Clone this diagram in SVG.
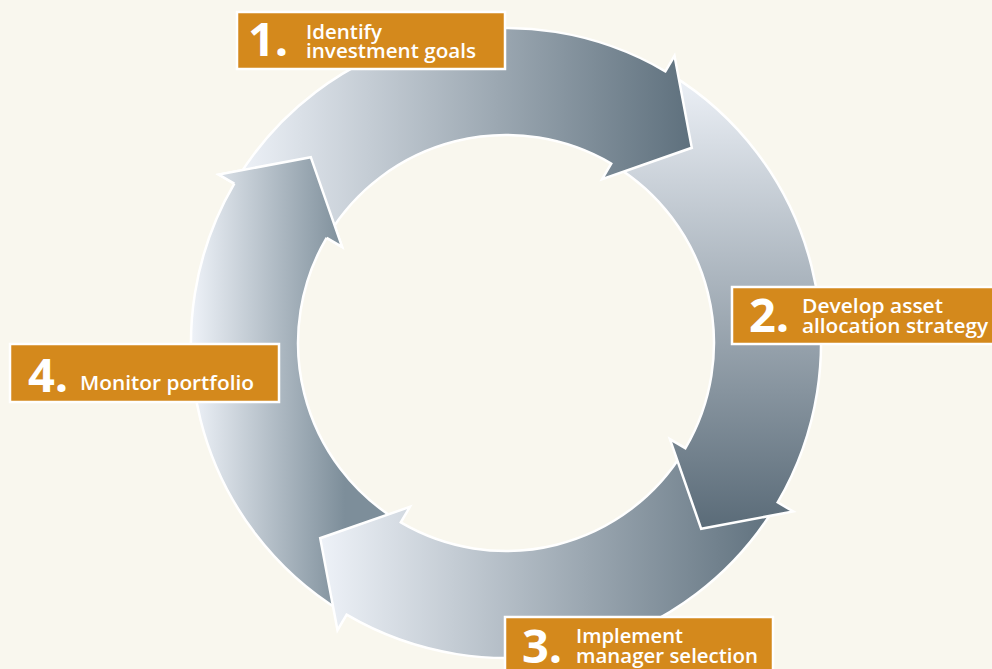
<svg xmlns="http://www.w3.org/2000/svg" width="992" height="669" viewBox="0 0 992 669">
<defs>
<linearGradient id="g1" gradientUnits="userSpaceOnUse" x1="237" y1="0" x2="692" y2="0"><stop offset="0" stop-color="#eef2f8"/><stop offset="1" stop-color="#5e707d"/></linearGradient>
<linearGradient id="g2" gradientUnits="userSpaceOnUse" x1="0" y1="72" x2="0" y2="529"><stop offset="0" stop-color="#eef2f8"/><stop offset="1" stop-color="#5a6b78"/></linearGradient>
<linearGradient id="g3" gradientUnits="userSpaceOnUse" x1="320" y1="0" x2="785" y2="0"><stop offset="0" stop-color="#eef2f8"/><stop offset="1" stop-color="#5c6e7b"/></linearGradient>
<linearGradient id="g4" gradientUnits="userSpaceOnUse" x1="191" y1="0" x2="345" y2="0"><stop offset="0" stop-color="#eef2f8"/><stop offset="1" stop-color="#7d8e9a"/></linearGradient>
<style>
.arr{stroke:#ffffff;stroke-width:2.5;stroke-linejoin:miter}
.edge{fill:none;stroke:#ffffff;stroke-width:2.5}
.box{fill:#d4891c;stroke:#ffffff;stroke-width:2.5}
.num{font-family:"Open Sans","Liberation Sans",sans-serif;font-weight:700;font-size:47px;fill:#ffffff}
.lbl{font-family:"Open Sans","Liberation Sans",sans-serif;font-weight:600;font-size:19.5px;fill:#ffffff}
</style>
</defs>
<rect width="992" height="669" fill="#f9f7ee"/>
<g id="connectors">
<path id="arrow4" class="arr" fill="url(#g4)" d="M341.9,611.9 A315,315 0 0 1 234.3,183.6 L218.8,174.5 L310.8,157.2 L342.1,246.9 L326.6,237.8 A208,208 0 0 0 397.6,520.5 Z"/>
<path id="arrow3" class="arr" fill="url(#g3)" d="M774.9,507.1 A315,315 0 0 1 346.6,614.7 L337.5,630.2 L320.2,538.2 L409.9,506.9 L400.8,522.4 A208,208 0 0 0 683.5,451.4 Z"/>
<path id="arrow2" class="arr" fill="url(#g2)" d="M670.1,74.1 A315,315 0 0 1 777.7,502.4 L793.2,511.5 L701.2,528.8 L669.9,439.1 L685.4,448.2 A208,208 0 0 0 614.4,165.5 Z"/>
<path id="arrow1" class="arr" fill="url(#g1)" d="M237.1,178.9 A315,315 0 0 1 665.4,71.3 L674.5,55.8 L691.8,147.8 L602.1,179.1 L611.2,163.6 A208,208 0 0 0 328.5,234.6 Z"/>
<polygon fill="url(#g4)" points="234.3,183.6 218.8,174.5 310.8,157.2 342.1,246.9 326.6,237.8"/>
<polyline class="edge" points="234.3,183.6 218.8,174.5 310.8,157.2 342.1,246.9 326.6,237.8"/>
</g>
<g id="step1">
<rect class="box" x="237" y="12" width="268" height="57"/>
<text class="num" x="248" y="56">1.</text>
<text class="lbl" x="306" y="39" textLength="76" lengthAdjust="spacingAndGlyphs">Identify</text>
<text class="lbl" x="306" y="58" textLength="170" lengthAdjust="spacingAndGlyphs">investment goals</text>
</g>
<g id="step2">
<rect class="box" x="732" y="287" width="272" height="57"/>
<text class="num" x="749" y="332">2.</text>
<text class="lbl" x="802" y="313" textLength="141" lengthAdjust="spacingAndGlyphs">Develop asset</text>
<text class="lbl" x="802" y="333" textLength="186" lengthAdjust="spacingAndGlyphs">allocation strategy</text>
</g>
<g id="step3">
<rect class="box" x="505" y="617" width="268" height="62"/>
<text class="num" x="522" y="663">3.</text>
<text class="lbl" x="576" y="643" textLength="107" lengthAdjust="spacingAndGlyphs">Implement</text>
<text class="lbl" x="576" y="663" textLength="182" lengthAdjust="spacingAndGlyphs">manager selection</text>
</g>
<g id="step4">
<rect class="box" x="10" y="344" width="269" height="58"/>
<text class="num" x="28" y="392">4.</text>
<text class="lbl" x="80" y="390" textLength="174" lengthAdjust="spacingAndGlyphs">Monitor portfolio</text>
</g>
</svg>
